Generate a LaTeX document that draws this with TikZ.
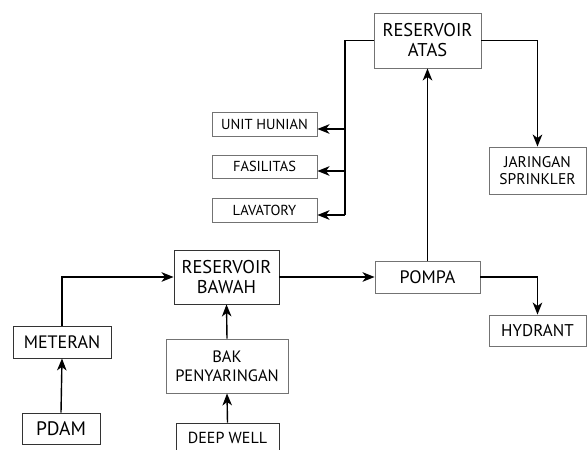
\documentclass[tikz,border=0pt]{standalone}
\usepackage{fontspec}
\setmainfont{PT Sans}
\usetikzlibrary{arrows.meta}
\begin{document}
\begin{tikzpicture}[x=1pt,y=-1pt,
  box/.style={draw=black!55,line width=0.9pt,inner sep=0pt,align=center,font=\fontsize{16}{19}\selectfont},
  sbox/.style={box,font=\fontsize{14.5}{17}\selectfont},
  conn/.style={line width=1.4pt,-{Stealth[length=12pt,width=9.5pt,inset=3.5pt]}},
  line/.style={line width=1.4pt}]
\useasboundingbox (0,0) rectangle (587,450);
\node[box,minimum width=107pt,minimum height=55pt,font=\fontsize{18.5}{20}\selectfont] (atas) at (427.5,40.5) {RESERVOIR\\ATAS};
\node[box,minimum width=97pt,minimum height=47pt,font=\fontsize{15.5}{17}\selectfont] (jar) at (537.5,170.5) {JARINGAN\\SPRINKLER};
\node[sbox,minimum width=105pt,minimum height=24pt] (unit) at (264.5,124) {UNIT HUNIAN};
\node[sbox,minimum width=105pt,minimum height=23pt] (fas) at (264.5,166.5) {FASILITAS};
\node[sbox,minimum width=105pt,minimum height=24pt] (lav) at (264.5,210) {LAVATORY};
\node[box,draw=black!80,minimum width=105pt,minimum height=54pt,font=\fontsize{18.5}{20}\selectfont] (bawah) at (226.5,277) {RESERVOIR\\BAWAH};
\node[box,minimum width=105pt,minimum height=32pt,font=\fontsize{18}{20}\selectfont] (pompa) at (427.5,277) {POMPA};
\node[box,minimum width=97pt,minimum height=31pt,font=\fontsize{17}{20}\selectfont] (hyd) at (537.5,330.5) {HYDRANT};
\node[box,draw=black!80,minimum width=98pt,minimum height=32pt,font=\fontsize{18}{21}\selectfont] (met) at (62,342) {METERAN};
\node[box,draw=black!80,minimum width=78pt,minimum height=31pt,font=\fontsize{19.5}{21}\selectfont] (pdam) at (61,428.5) {PDAM};
\node[box,minimum width=122pt,minimum height=54pt,font=\fontsize{16.5}{19}\selectfont] (bak) at (227,366) {BAK\\PENYARINGAN};
\node[box,draw=black!80,minimum width=103pt,minimum height=30pt] (deep) at (227.5,438) {DEEP WELL};
\coordinate (j0) at (345,42);
\coordinate (j1) at (345,129);
\coordinate (j2) at (345,171);
\coordinate (j3) at (345,215);
\draw[line] (atas.west) -| (j3);
\draw[conn] (j1) -- (unit.east |- j1);
\draw[conn] (j2) -- (fas.east |- j2);
\draw[conn] (j3) -- (lav.east |- j3);
\draw[conn] (atas.east) -| (jar.north);
\draw[conn] (pompa.north) -- (atas.south);
\draw[conn] (pompa.east) -| (hyd.north);
\draw[conn] (bawah.east) -- (pompa.west);
\draw[conn] (met.north) |- (bawah.west);
\draw[conn] (pdam.north) -- (met.south);
\draw[conn] (bak.north) -- (bawah.south);
\draw[conn] (deep.north) -- (bak.south);
\end{tikzpicture}
\end{document}
